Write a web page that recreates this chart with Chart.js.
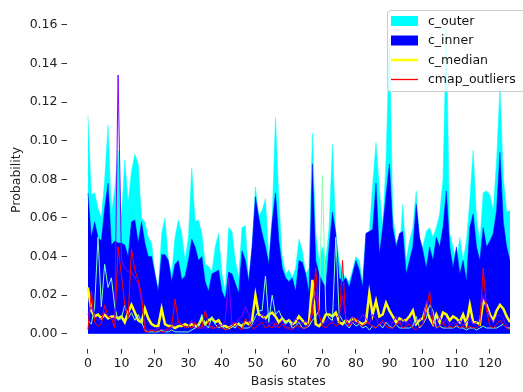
<!DOCTYPE html>
<html>
<head>
<meta charset="utf-8">
<script src="https://cdn.jsdelivr.net/npm/chart.js@4"></script>
<style>
  html, body { margin: 0; padding: 0; background: #fff; }
  #wrap { width: 523px; height: 392px; }
</style>
</head>
<body>
<div id="wrap"><canvas id="chart-1" width="523" height="392"></canvas></div>
<script>
// basis states 0..126
const states = Array.from({ length: 127 }, (_, i) => i);

const outerVals = [
  0.113, 0.072, 0.073, 0.065, 0.060, 0.080, 0.108, 0.062, 0.075, 0.095,
  0.060, 0.090, 0.068, 0.084, 0.093, 0.088, 0.060, 0.058, 0.050, 0.047,
  0.031, 0.022, 0.052, 0.060, 0.038, 0.031, 0.050, 0.059, 0.052, 0.038,
  0.050, 0.086, 0.058, 0.059, 0.052, 0.036, 0.035, 0.032, 0.045, 0.052,
  0.031, 0.022, 0.055, 0.053, 0.038, 0.029, 0.055, 0.056, 0.027, 0.045,
  0.076, 0.061, 0.064, 0.070, 0.038, 0.060, 0.112, 0.069, 0.040, 0.031,
  0.033, 0.029, 0.034, 0.049, 0.043, 0.031, 0.034, 0.104, 0.052, 0.038,
  0.045, 0.038, 0.055, 0.098, 0.052, 0.038, 0.031, 0.029, 0.027, 0.033,
  0.040, 0.038, 0.027, 0.052, 0.053, 0.077, 0.099, 0.075, 0.055, 0.090,
  0.153, 0.062, 0.048, 0.043, 0.067, 0.038, 0.048, 0.055, 0.074, 0.048,
  0.045, 0.053, 0.055, 0.050, 0.055, 0.062, 0.080, 0.158, 0.052, 0.045,
  0.036, 0.050, 0.038, 0.048, 0.069, 0.095, 0.060, 0.047, 0.073, 0.074,
  0.072, 0.064, 0.090, 0.128, 0.081, 0.063, 0.064
];

const innerVals = [
  0.073, 0.050, 0.058, 0.050, 0.048, 0.065, 0.078, 0.046, 0.048, 0.047,
  0.047, 0.046, 0.040, 0.058, 0.059, 0.047, 0.058, 0.047, 0.040, 0.040,
  0.031, 0.022, 0.041, 0.041, 0.038, 0.027, 0.036, 0.038, 0.028, 0.030,
  0.038, 0.049, 0.045, 0.038, 0.040, 0.027, 0.022, 0.031, 0.032, 0.033,
  0.022, 0.018, 0.032, 0.031, 0.026, 0.021, 0.043, 0.038, 0.027, 0.045,
  0.071, 0.060, 0.052, 0.045, 0.036, 0.058, 0.073, 0.048, 0.034, 0.029,
  0.027, 0.029, 0.022, 0.038, 0.037, 0.031, 0.021, 0.088, 0.038, 0.031,
  0.027, 0.024, 0.045, 0.063, 0.052, 0.029, 0.027, 0.029, 0.024, 0.031,
  0.038, 0.033, 0.024, 0.052, 0.053, 0.054, 0.078, 0.041, 0.055, 0.072,
  0.088, 0.055, 0.045, 0.052, 0.053, 0.031, 0.038, 0.045, 0.067, 0.050,
  0.043, 0.034, 0.045, 0.038, 0.050, 0.045, 0.055, 0.074, 0.045, 0.034,
  0.045, 0.031, 0.038, 0.027, 0.055, 0.062, 0.045, 0.038, 0.055, 0.045,
  0.048, 0.052, 0.064, 0.094, 0.058, 0.045, 0.038
];

const medianVals = [
  0.024, 0.012, 0.009, 0.010, 0.008, 0.010, 0.008, 0.009, 0.009, 0.008,
  0.009, 0.006, 0.011, 0.015, 0.011, 0.007, 0.006, 0.013, 0.008, 0.005,
  0.004, 0.004, 0.013, 0.005, 0.004, 0.004, 0.003, 0.004, 0.004, 0.005,
  0.004, 0.005, 0.004, 0.0045, 0.008, 0.005, 0.007, 0.008, 0.006, 0.007,
  0.004, 0.004, 0.003, 0.004, 0.005, 0.005, 0.004, 0.006, 0.005, 0.007,
  0.020, 0.010, 0.009, 0.008, 0.010, 0.011, 0.009, 0.006, 0.008, 0.006,
  0.007, 0.005, 0.006, 0.009, 0.007, 0.005, 0.006, 0.028, 0.005, 0.004,
  0.006, 0.010, 0.010, 0.009, 0.011, 0.006, 0.005, 0.007, 0.006, 0.008,
  0.007, 0.006, 0.005, 0.006, 0.021, 0.010, 0.017, 0.009, 0.010, 0.016,
  0.012, 0.009, 0.006, 0.008, 0.007, 0.007, 0.009, 0.012, 0.005, 0.007,
  0.008, 0.014, 0.008, 0.005, 0.010, 0.006, 0.011, 0.010, 0.007, 0.009,
  0.008, 0.006, 0.010, 0.005, 0.015, 0.006, 0.006, 0.005, 0.017, 0.015,
  0.010, 0.007, 0.012, 0.015, 0.013, 0.009, 0.006
];

// outliers, coloured along the rainbow colormap
const outlierPurple = [
  0.010, 0.014, 0.009, 0.007, 0.008, 0.011, 0.009, 0.008, 0.007, 0.134,
  0.038, 0.034, 0.032, 0.032, 0.029, 0.026, 0.017, 0.004, 0.002, 0.002,
  0.002, 0.003, 0.002, 0.002, 0.002, 0.003, 0.005, 0.006, 0.005, 0.003,
  0.004, 0.007, 0.003, 0.003, 0.004, 0.003, 0.003, 0.004, 0.003, 0.005,
  0.004, 0.007, 0.029, 0.005, 0.003, 0.008, 0.009, 0.014, 0.010, 0.004,
  0.006, 0.008, 0.010, 0.007, 0.004, 0.006, 0.003, 0.005, 0.007, 0.004,
  0.003, 0.005, 0.008, 0.006, 0.005, 0.007, 0.004, 0.014, 0.022, 0.009,
  0.005, 0.006, 0.009, 0.006, 0.008, 0.010, 0.020, 0.008, 0.004, 0.009,
  0.005, 0.007, 0.010, 0.008, 0.005, 0.010, 0.008, 0.004, 0.006, 0.004,
  0.003, 0.006, 0.009, 0.005, 0.008, 0.005, 0.008, 0.004, 0.006, 0.008,
  0.006, 0.017, 0.010, 0.008, 0.005, 0.009, 0.005, 0.008, 0.004, 0.006,
  0.005, 0.007, 0.004, 0.006, 0.009, 0.005, 0.006, 0.008, 0.020, 0.014,
  0.009, 0.006, 0.009, 0.010, 0.008, 0.004, 0.003
];

const outlierGreen = [
  0.007, 0.005, 0.014, 0.050, 0.014, 0.036, 0.024, 0.029, 0.014, 0.007,
  0.008, 0.015, 0.008, 0.011, 0.007, 0.010, 0.006, 0.002, 0.001, 0.001,
  0.001, 0.001, 0.002, 0.001, 0.001, 0.002, 0.001, 0.001, 0.001, 0.001,
  0.001, 0.002, 0.003, 0.004, 0.010, 0.005, 0.003, 0.009, 0.005, 0.003,
  0.004, 0.002, 0.003, 0.004, 0.003, 0.006, 0.003, 0.003, 0.003, 0.005,
  0.009, 0.012, 0.012, 0.030, 0.006, 0.020, 0.010, 0.012, 0.008, 0.005,
  0.007, 0.003, 0.004, 0.006, 0.003, 0.003, 0.004, 0.007, 0.009, 0.012,
  0.082, 0.012, 0.008, 0.007, 0.050, 0.010, 0.007, 0.005, 0.003, 0.006,
  0.004, 0.005, 0.003, 0.004, 0.002, 0.004, 0.003, 0.005, 0.003, 0.006,
  0.004, 0.003, 0.005, 0.003, 0.003, 0.003, 0.003, 0.004, 0.009, 0.003,
  0.005, 0.008, 0.015, 0.012, 0.003, 0.004, 0.003, 0.003, 0.003, 0.003,
  0.004, 0.003, 0.003, 0.002, 0.003, 0.003, 0.002, 0.003, 0.004, 0.003,
  0.003, 0.003, 0.003, 0.004, 0.005, 0.003, 0.003
];

const outlierRed = [
  0.002, 0.022, 0.006, 0.004, 0.005, 0.015, 0.009, 0.008, 0.003, 0.045,
  0.030, 0.015, 0.008, 0.044, 0.033, 0.028, 0.020, 0.001, 0.001, 0.002,
  0.001, 0.002, 0.001, 0.001, 0.003, 0.004, 0.018, 0.006, 0.005, 0.003,
  0.004, 0.003, 0.006, 0.003, 0.003, 0.012, 0.005, 0.003, 0.003, 0.004,
  0.003, 0.002, 0.003, 0.004, 0.006, 0.003, 0.002, 0.008, 0.006, 0.003,
  0.003, 0.005, 0.006, 0.003, 0.004, 0.003, 0.006, 0.003, 0.005, 0.003,
  0.003, 0.002, 0.004, 0.004, 0.003, 0.003, 0.005, 0.010, 0.034, 0.010,
  0.004, 0.003, 0.005, 0.006, 0.004, 0.005, 0.038, 0.006, 0.004, 0.006,
  0.008, 0.005, 0.004, 0.006, 0.005, 0.004, 0.003, 0.005, 0.007, 0.004,
  0.003, 0.003, 0.005, 0.006, 0.003, 0.004, 0.005, 0.003, 0.002, 0.004,
  0.005, 0.012, 0.022, 0.005, 0.003, 0.004, 0.006, 0.003, 0.004, 0.003,
  0.005, 0.003, 0.004, 0.003, 0.004, 0.003, 0.003, 0.005, 0.034, 0.012,
  0.004, 0.003, 0.005, 0.007, 0.005, 0.003, 0.002
];

const xTicks = [0, 10, 20, 30, 40, 50, 60, 70, 80, 90, 100, 110, 120];
const yTicks = [0, 0.02, 0.04, 0.06, 0.08, 0.10, 0.12, 0.14, 0.16];

const FONT = '"DejaVu Sans", sans-serif';
const toPoints = vals => states.map((s, i) => ({ x: s, y: vals[i] }));

// matplotlib-like legend in the top right corner
const legendItems = [
  { label: 'c_outer', color: '#00ffff', kind: 'patch' },
  { label: 'c_inner', color: '#0000ff', kind: 'patch' },
  { label: 'c_median', color: '#ffff00', kind: 'line', width: 2.5 },
  { label: 'cmap_outliers', color: '#ff0000', kind: 'line', width: 1.3 }
];

const mplLegend = {
  id: 'mplLegend',
  afterDraw(chart) {
    const c = chart.ctx;
    const x = 387.5, y = 10.5, w = 140, h = 81, r = 3;
    c.save();
    c.beginPath();
    c.roundRect(x, y, w, h, r);
    c.fillStyle = 'rgba(255,255,255,0.8)';
    c.fill();
    c.strokeStyle = '#cccccc';
    c.lineWidth = 1;
    c.stroke();
    c.font = '12.5px ' + FONT;
    c.textBaseline = 'middle';
    c.textAlign = 'left';
    legendItems.forEach((it, k) => {
      const cy = 21 + k * 19.5;
      if (it.kind === 'patch') {
        c.fillStyle = it.color;
        c.fillRect(391, cy - 5, 27, 10);
      } else {
        c.strokeStyle = it.color;
        c.lineWidth = it.width;
        c.beginPath();
        c.moveTo(391, cy);
        c.lineTo(418, cy);
        c.stroke();
      }
      c.fillStyle = '#111';
      c.fillText(it.label, 428, cy + 0.5);
    });
    c.restore();
  }
};

const ctx = document.getElementById('chart-1');
new Chart(ctx, {
  type: 'line',
  data: {
    datasets: [
      { label: 'outlier 3', data: toPoints(outlierRed), borderColor: '#ff0000', borderWidth: 1, order: 0 },
      { label: 'outlier 2', data: toPoints(outlierGreen), borderColor: '#80ffb4', borderWidth: 1, order: 1 },
      { label: 'outlier 1', data: toPoints(outlierPurple), borderColor: '#8000ff', borderWidth: 1, order: 2 },
      { label: 'c_median', data: toPoints(medianVals), borderColor: '#ffff00', borderWidth: 2.5, order: 3 },
      { label: 'c_inner', data: toPoints(innerVals), borderColor: '#0000ff', backgroundColor: '#0000ff',
        borderWidth: 0.5, fill: 'origin', order: 4 },
      { label: 'c_outer', data: toPoints(outerVals), borderColor: '#00ffff', backgroundColor: '#00ffff',
        borderWidth: 0.5, fill: 'origin', order: 5 }
    ]
  },
  options: {
    responsive: false,
    animation: false,
    devicePixelRatio: 1,
    elements: { point: { radius: 0 }, line: { tension: 0 } },
    layout: { padding: { top: 10, right: 13, left: 0, bottom: 0 } },
    plugins: { legend: { display: false }, tooltip: { enabled: false } },
    scales: {
      x: {
        type: 'linear',
        min: -6.4,
        max: 126,
        afterFit: s => { s.height = 43.5; },
        afterBuildTicks: s => { s.ticks = xTicks.map(v => ({ value: v })); },
        border: { display: false },
        grid: { drawOnChartArea: false, tickLength: 5, color: '#333' },
        ticks: { color: '#222', padding: 3, maxRotation: 0, font: { family: FONT, size: 12.5 } },
        title: { display: true, text: 'Basis states', color: '#222', padding: { top: 0, bottom: 3 },
          font: { family: FONT, size: 12.5 } }
      },
      y: {
        min: -0.0076,
        max: 0.1669,
        afterFit: s => { s.width = 66.5; },
        afterBuildTicks: s => { s.ticks = yTicks.map(v => ({ value: v })); },
        border: { display: false },
        grid: { drawOnChartArea: false, tickLength: 5, color: '#333' },
        ticks: { color: '#222', padding: 4, callback: v => v.toFixed(2), font: { family: FONT, size: 12.5 } },
        title: { display: true, text: 'Probability', color: '#222', padding: { top: 9, bottom: 0 },
          font: { family: FONT, size: 12.5 } }
      }
    }
  },
  plugins: [mplLegend]
});
</script>
</body>
</html>
